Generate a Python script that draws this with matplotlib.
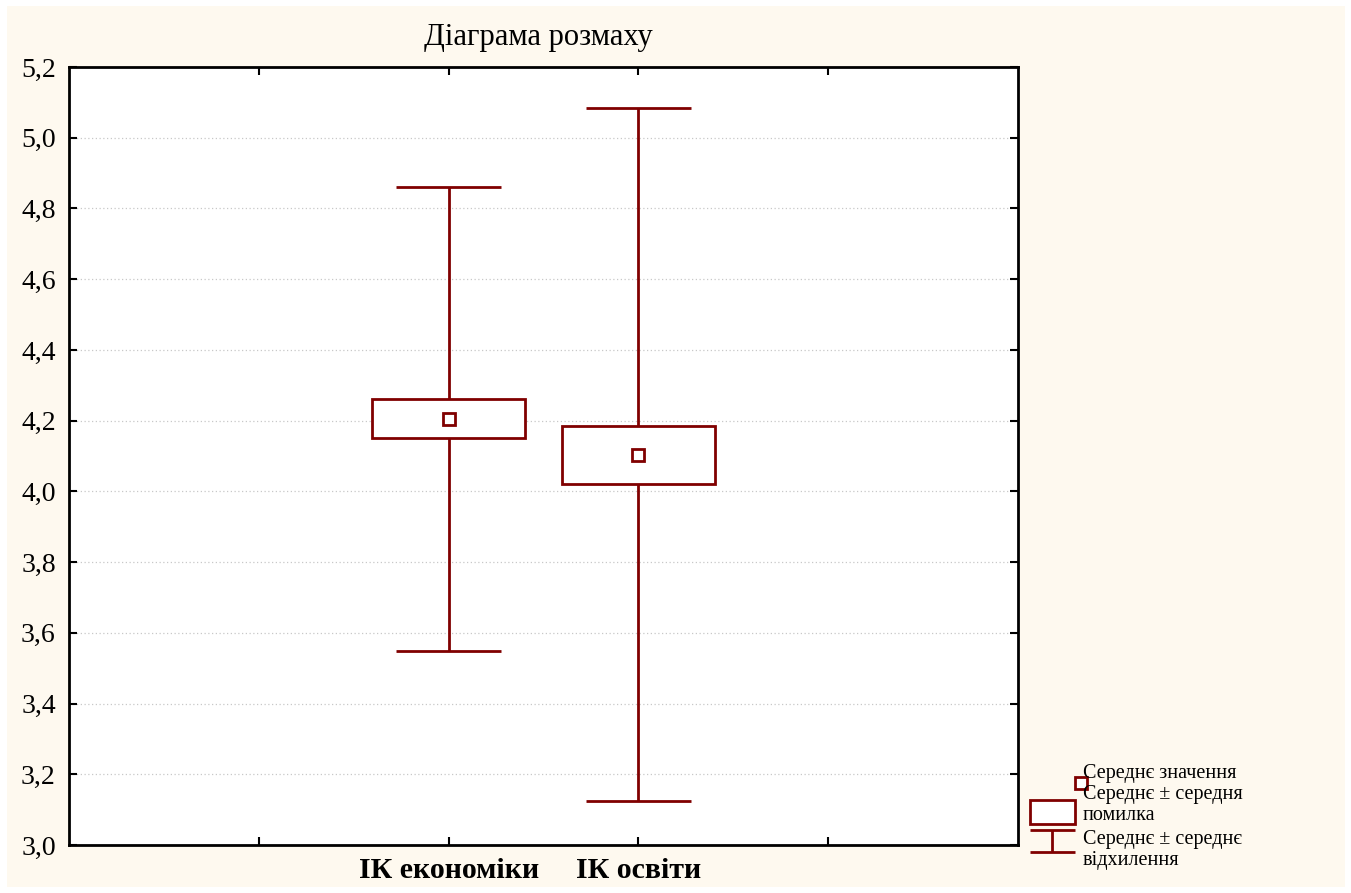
import matplotlib
matplotlib.use("Agg")
import matplotlib.pyplot as plt
from matplotlib.patches import Rectangle
import numpy as np

# ---- data ----
categories = ["ІК економіки", "ІК освіти"]
positions = [2, 3]
means = [4.205, 4.104]
std_errors = [0.055, 0.082]
std_devs = [0.657, 0.980]
y_ticks = [3.0, 3.2, 3.4, 3.6, 3.8, 4.0, 4.2, 4.4, 4.6, 4.8, 5.0, 5.2]
legend_labels = ["Середнє значення", "Середнє ± середня\nпомилка", "Середнє ± середнє\nвідхилення"]
title = "Діаграма розмаху"

RED = "#800000"
BG = "#fef9ef"
serif = ["Liberation Serif", "DejaVu Serif"]

fig = plt.figure(figsize=(13.51, 8.93), dpi=100, facecolor="white")
# cream panel
fig.patches.append(Rectangle((7/1351, 6/893), (1345-7)/1351, (887-6)/893,
                             transform=fig.transFigure, facecolor=BG, edgecolor="none", zorder=-10))

ax = fig.add_axes([69/1351, 48/893, (1018-69)/1351, (845-67)/893])
ax.set_facecolor("white")
ax.set_xlim(0, 5)
ax.set_ylim(3.0, 5.2)

box_w = 0.81
cap_w = 0.55
lw = 2.0
for x, m, se, sd in zip(positions, means, std_errors, std_devs):
    ax.vlines(x, m + se, m + sd, color=RED, lw=lw, zorder=3)
    ax.vlines(x, m - sd, m - se, color=RED, lw=lw, zorder=3)
    ax.hlines([m - sd, m + sd], x - cap_w / 2, x + cap_w / 2, color=RED, lw=lw, zorder=3)
ax.bar(positions, [2 * s for s in std_errors], bottom=[m - s for m, s in zip(means, std_errors)],
       width=box_w, facecolor="white", edgecolor=RED, linewidth=lw, zorder=4)
ax.plot(positions, means, linestyle="none", marker="s", markersize=8.5,
        markerfacecolor="white", markeredgecolor=RED, markeredgewidth=2, zorder=5)

ax.set_yticks(y_ticks)
ax.set_yticklabels([f"{v:.1f}".replace(".", ",") for v in y_ticks],
                   fontfamily=serif, fontsize=20)
ax.set_xticks([1, 2, 3, 4])
ax.set_xticklabels(["", categories[0], categories[1], ""], fontfamily=serif,
                   fontsize=21.5, fontweight="bold")
ax.tick_params(direction="in", top=True, right=True, length=6, width=1.5)
ax.tick_params(axis="y", pad=9.5)
ax.tick_params(axis="x", pad=9)
for y in y_ticks[1:-1]:
    ax.axhline(y, color="#c8c8c8", lw=0.9, ls=(0, (1, 2)), zorder=1)
for s in ax.spines.values():
    s.set_linewidth(2)
    s.set_color("black")

fig.text(538/1351, 1 - 37/893, title, ha="center", va="center", fontfamily=serif, fontsize=22)

# ---- legend ----
lax = fig.add_axes([1020/1351, 0, 331/1351, 150/893])
lax.set_xlim(1020, 1351)
lax.set_ylim(893, 743)
lax.axis("off")
lax.add_patch(Rectangle((1075, 777), 12, 12, facecolor="white", edgecolor=RED, lw=2))
lax.add_patch(Rectangle((1030, 800), 45, 24, facecolor="white", edgecolor=RED, lw=2))
lax.hlines([830, 852], 1030, 1075, color=RED, lw=2)
lax.vlines(1052, 830, 852, color=RED, lw=2)
txt_kw = dict(fontfamily=serif, fontsize=14.5, va="center", ha="left", linespacing=1.2)
lax.text(1083, 774, legend_labels[0], **txt_kw)
lax.text(1083, 805, legend_labels[1], **txt_kw)
lax.text(1083, 850, legend_labels[2], **txt_kw)

fig.savefig("out.png", dpi=100, facecolor="white")
